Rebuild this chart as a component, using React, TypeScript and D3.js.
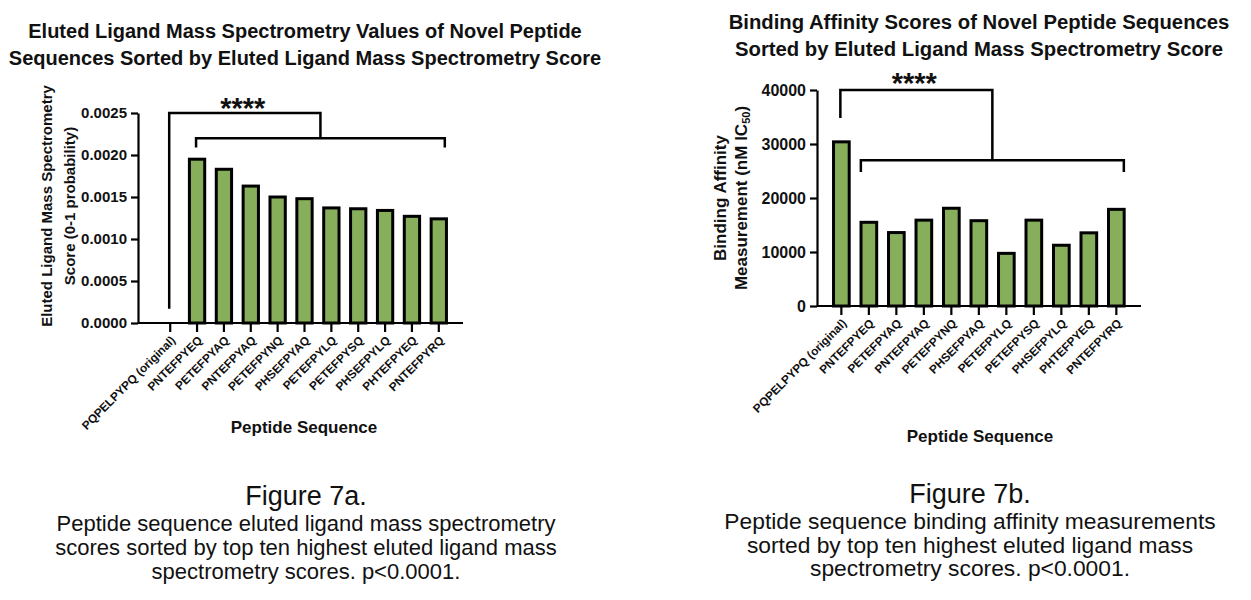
import { useEffect, useRef } from 'react'
import * as d3 from 'd3'

const peptides = [
  'PQPELPYPQ (original)',
  'PNTEFPYEQ',
  'PETEFPYAQ',
  'PNTEFPYAQ',
  'PETEFPYNQ',
  'PHSEFPYAQ',
  'PETEFPYLQ',
  'PETEFPYSQ',
  'PHSEFPYLQ',
  'PHTEFPYEQ',
  'PNTEFPYRQ',
]

// eluted ligand MS score (0-1 probability)
const elutedScores = [0, 0.00195, 0.00183, 0.00163, 0.0015, 0.00148, 0.00137, 0.00136, 0.00134, 0.00127, 0.00124]
const elutedTicks = [0, 0.0005, 0.001, 0.0015, 0.002, 0.0025]

// binding affinity, nM IC50
const bindingScores = [30400, 15500, 13600, 15900, 18100, 15800, 9750, 15900, 11250, 13550, 17900]
const bindingTicks = [0, 10000, 20000, 30000, 40000]

// significance bracket heights (in y units): top, top-left leg end, inner, inner legs end
const elutedBracket = [0.0025, 0.00017, 0.0022, 0.00209]
const bindingBracket = [40000, 34800, 27000, 24800]

const FONT = '"Liberation Sans", Arial, Helvetica, sans-serif'
const GREEN = '#87ae5b'

type Panel = {
  values: number[]
  ticks: number[]
  fmt: (d: number) => string
  yMax: number
  bracket: number[]
  legOffsets: number[]
  top: number
  bottom: number
  axisX: number
  axisEnd: number
  band: [number, number]
  tickFont: number
  title: string[]
  titleX: number
  titleY: number
  titleFont: number
  yTitle: string[]
  yTitleX: number[]
  yTitleY: number
  yTitleFont: number
  xTitleX: number
  xTitleY: number
  starsY: number
}

function drawPanel(root: d3.Selection<SVGGElement, unknown, null, undefined>, p: Panel) {
  const g = root.append('g')

  const x = d3.scaleBand<string>().domain(peptides).range(p.band).padding(0.43)
  const y = d3.scaleLinear().domain([0, p.yMax]).range([p.bottom, p.top])
  const cx = (i: number) => (x(peptides[i]) as number) + x.bandwidth() / 2

  // title
  g.append('text')
    .attr('x', p.titleX)
    .attr('y', p.titleY)
    .attr('text-anchor', 'middle')
    .attr('font-size', p.titleFont)
    .attr('font-weight', 'bold')
    .selectAll('tspan')
    .data(p.title)
    .join('tspan')
    .attr('x', p.titleX)
    .attr('dy', (_, i) => (i === 0 ? 0 : 27))
    .text((d) => d)

  // bars
  g.append('g')
    .selectAll('rect')
    .data(p.values.map((v, i) => ({ v, name: peptides[i] })).filter((d) => d.v > 0))
    .join('rect')
    .attr('x', (d) => x(d.name) as number)
    .attr('width', x.bandwidth())
    .attr('y', (d) => y(d.v))
    .attr('height', (d) => p.bottom - y(d.v))
    .attr('fill', GREEN)
    .attr('stroke', '#000')
    .attr('stroke-width', 3)

  // y axis
  const ya = g
    .append('g')
    .attr('transform', `translate(${p.axisX},0)`)
    .call(d3.axisLeft(y).tickValues(p.ticks).tickFormat(p.fmt as any).tickSize(7).tickSizeOuter(0).tickPadding(4))
  ya.select('.domain').attr('stroke-width', 2.2)
  ya.selectAll('.tick line').attr('stroke-width', 2.2)
  ya.selectAll('.tick text')
    .attr('font-size', p.tickFont)
    .attr('font-weight', 'bold')
    .attr('font-family', FONT)
    .attr('fill', '#111')

  // x axis
  const xa = g
    .append('g')
    .attr('transform', `translate(0,${p.bottom})`)
    .call(d3.axisBottom(x).tickSize(9).tickSizeOuter(0))
  xa.select('.domain').remove()
  xa.selectAll('.tick line').attr('stroke-width', 2.2)
  xa.selectAll('.tick text')
    .attr('x', 0)
    .attr('y', 0)
    .attr('dy', '0.35em')
    .attr('text-anchor', 'end')
    .attr('transform', 'translate(3,15) rotate(-45)')
    .attr('font-size', 11.8)
    .attr('font-weight', 'bold')
    .attr('font-family', FONT)
    .attr('fill', '#111')
  g.append('line')
    .attr('x1', p.axisX)
    .attr('x2', p.axisEnd)
    .attr('y1', p.bottom)
    .attr('y2', p.bottom)
    .attr('stroke', '#000')
    .attr('stroke-width', 2.2)

  // axis titles
  const yt = g
    .append('text')
    .attr('transform', `translate(0,${p.yTitleY}) rotate(-90)`)
    .attr('text-anchor', 'middle')
    .attr('font-size', p.yTitleFont)
    .attr('font-weight', 'bold')
  p.yTitle.forEach((line, i) => {
    const t = yt.append('tspan').attr('x', 0).attr('y', p.yTitleX[i]).attr('dy', '0.35em')
    const m = line.match(/^(.*IC)50\)$/)
    if (m) {
      t.text(m[1])
      t.append('tspan').attr('font-size', p.yTitleFont * 0.65).attr('dy', '0.3em').text('50')
      t.append('tspan').attr('dy', '-0.2em').text(')')
    } else {
      t.text(line)
    }
  })

  g.append('text')
    .attr('x', p.xTitleX)
    .attr('y', p.xTitleY)
    .attr('text-anchor', 'middle')
    .attr('font-size', 17)
    .attr('font-weight', 'bold')
    .text('Peptide Sequence')

  // significance brackets
  const [bTop, bLeg, bInner, bInnerLeg] = p.bracket.map((v) => y(v))
  const x0 = cx(0) + p.legOffsets[0]
  const x1 = cx(1) + p.legOffsets[1]
  const x2 = cx(peptides.length - 1) + p.legOffsets[2]
  const mid = (x1 + x2) / 2
  const br = g.append('g').attr('fill', 'none').attr('stroke', '#000').attr('stroke-width', 2.5)
  br.append('path').attr('d', `M${x0},${bLeg}V${bTop}H${mid}V${bInner}`)
  br.append('path').attr('d', `M${x1},${bInnerLeg}V${bInner}H${x2}V${bInnerLeg}`)

  g.append('text')
    .attr('x', (x0 + mid) / 2 - 2)
    .attr('y', p.starsY)
    .attr('text-anchor', 'middle')
    .attr('font-size', 29)
    .attr('font-weight', 'bold')
    .text('****')
}

export default function App() {
  const svgRef = useRef<SVGSVGElement>(null)

  useEffect(() => {
    if (!svgRef.current) return
    const svg = d3.select(svgRef.current)
    svg.selectAll('*').remove()
    const root = svg.append('g')

    drawPanel(root, {
      values: elutedScores,
      ticks: elutedTicks,
      fmt: d3.format('.4f'),
      yMax: 0.0025,
      bracket: elutedBracket,
      legOffsets: [-1, -1, 6],
      top: 113,
      bottom: 323,
      axisX: 138,
      axisEnd: 463,
      band: [151, 458],
      tickFont: 15,
      title: ['Eluted Ligand Mass Spectrometry Values of Novel Peptide', 'Sequences Sorted by Eluted Ligand Mass Spectrometry Score'],
      titleX: 305,
      titleY: 38,
      titleFont: 20,
      yTitle: ['Eluted Ligand Mass Spectrometry', 'Score (0-1 probability)'],
      yTitleX: [47, 70],
      yTitleY: 206,
      yTitleFont: 15,
      xTitleX: 304,
      xTitleY: 433,
      starsY: 118,
    })

    drawPanel(root, {
      values: bindingScores,
      ticks: bindingTicks,
      fmt: d3.format('d'),
      yMax: 40000,
      bracket: bindingBracket,
      legOffsets: [-1, -8, 7.5],
      top: 90,
      bottom: 306,
      axisX: 817,
      axisEnd: 1141,
      band: [821.7, 1136],
      tickFont: 16,
      title: ['Binding Affinity Scores of Novel Peptide Sequences', 'Sorted by Eluted Ligand Mass Spectrometry Score'],
      titleX: 979,
      titleY: 29,
      titleFont: 20.3,
      yTitle: ['Binding Affinity', 'Measurement (nM IC50)'],
      yTitleX: [720, 741],
      yTitleY: 198,
      yTitleFont: 17,
      xTitleX: 980,
      xTitleY: 442,
      starsY: 93,
    })

    // figure captions
    const captions = [
      { x: 306, y: 505, size: 22, gap: 24, head: 'Figure 7a.', lines: ['Peptide sequence eluted ligand mass spectrometry', 'scores sorted by top ten highest eluted ligand mass', 'spectrometry scores. p<0.0001.'] },
      { x: 970, y: 503, size: 22.8, gap: 23.6, head: 'Figure 7b.', lines: ['Peptide sequence binding affinity measurements', 'sorted by top ten highest eluted ligand mass', 'spectrometry scores. p<0.0001.'] },
    ]
    captions.forEach((c) => {
      root.append('text')
        .attr('x', c.x)
        .attr('y', c.y)
        .attr('text-anchor', 'middle')
        .attr('font-size', 27)
        .text(c.head)
      root.append('text')
        .attr('text-anchor', 'middle')
        .attr('font-size', c.size)
        .selectAll('tspan')
        .data(c.lines)
        .join('tspan')
        .attr('x', c.x)
        .attr('y', (_, i) => c.y + 26 + i * c.gap)
        .text((d) => d)
    })
  }, [])

  return (
    <svg
      ref={svgRef}
      width={1251}
      height={600}
      style={{ position: 'absolute', left: 0, top: 0, background: '#fff', fontFamily: FONT }}
      fill="#111"
    />
  )
}
